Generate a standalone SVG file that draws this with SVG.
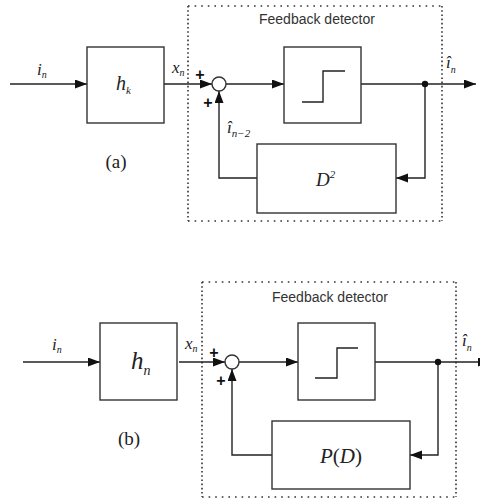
<svg xmlns="http://www.w3.org/2000/svg" width="480" height="498" viewBox="0 0 480 498">
<defs>
<marker id="arr" markerUnits="userSpaceOnUse" markerWidth="13" markerHeight="10" refX="12" refY="4.5" orient="auto">
<path d="M0,0 L12,4.5 L0,9 Z" fill="#111"/>
</marker>
<style>
.box{fill:#fff;stroke:#333;stroke-width:1.4}
.ln{fill:none;stroke:#222;stroke-width:1.4}
.dot{fill:#111}
.fh{fill:none;stroke:#333;stroke-width:1.6;stroke-dasharray:1.6 5}
.fv{fill:none;stroke:#333;stroke-width:1.6;stroke-dasharray:1.6 2.6}
.m{font-family:"Liberation Serif",serif;font-style:italic;fill:#222}
.r{font-family:"Liberation Serif",serif;fill:#222}
.s{font-family:"Liberation Sans",sans-serif;fill:#333}
.p{font-family:"Liberation Sans",sans-serif;font-weight:bold;font-size:16px;fill:#111;text-anchor:middle}
</style>
</defs>
<rect width="480" height="498" fill="#fff"/>

<!-- Panel (a) -->
<g id="frame-a">
<line class="fh" x1="188" y1="6" x2="442" y2="6"/>
<line class="fh" x1="188" y1="221" x2="442" y2="221"/>
<line class="fv" x1="188" y1="6" x2="188" y2="221"/>
<line class="fv" x1="442" y1="6" x2="442" y2="221"/>
<text class="s" x="259" y="24" font-size="14">Feedback detector</text>
</g>
<g id="connectors-a">
<line class="ln" x1="10" y1="84" x2="87" y2="84" marker-end="url(#arr)"/>
<line class="ln" x1="164" y1="84" x2="212" y2="84" marker-end="url(#arr)"/>
<line class="ln" x1="226" y1="84" x2="284" y2="84" marker-end="url(#arr)"/>
<line class="ln" x1="361" y1="84" x2="476" y2="84" marker-end="url(#arr)"/>
<polyline class="ln" points="425,84 425,178 396,178" marker-end="url(#arr)"/>
<polyline class="ln" points="257,178 219,178 219,91" marker-end="url(#arr)"/>
<circle class="dot" cx="425" cy="84" r="3.2"/>
</g>
<g id="hk">
<rect class="box" x="87" y="47" width="77" height="76"/>
<text class="m" x="116" y="90" font-size="20">h<tspan font-size="11" dy="4">k</tspan></text>
</g>
<g id="sum-a">
<circle class="box" cx="219" cy="84" r="7"/>
<text class="p" x="200" y="80">+</text>
<text class="p" x="208" y="108">+</text>
</g>
<g id="step-a">
<rect class="box" x="284" y="47" width="77" height="76"/>
<polyline class="ln" points="302,102 323,102 323,71 345,71"/>
</g>
<g id="d2">
<rect class="box" x="257" y="144" width="139" height="69"/>
<text class="m" x="316" y="186" font-size="19">D<tspan font-size="11" dy="-8">2</tspan></text>
</g>
<g id="labels-a">
<text class="m" x="37" y="75" font-size="17">i<tspan font-size="10" dy="3">n</tspan></text>
<text class="m" x="172" y="73" font-size="17">x<tspan font-size="10" dy="3">n</tspan></text>
<text class="m" x="227" y="133" font-size="17">î<tspan font-size="11" dy="4">n−2</tspan></text>
<text class="m" x="446" y="68" font-size="17">î<tspan font-size="10" dy="5">n</tspan></text>
<text class="r" x="116" y="168" font-size="19" text-anchor="middle">(a)</text>
</g>

<!-- Panel (b) -->
<g id="frame-b">
<line class="fh" x1="202" y1="282" x2="456" y2="282"/>
<line class="fh" x1="202" y1="497" x2="456" y2="497"/>
<line class="fv" x1="202" y1="282" x2="202" y2="497"/>
<line class="fv" x1="456" y1="282" x2="456" y2="497"/>
<text class="s" x="272" y="302" font-size="14">Feedback detector</text>
</g>
<g id="connectors-b">
<line class="ln" x1="23" y1="362" x2="100" y2="362" marker-end="url(#arr)"/>
<line class="ln" x1="179" y1="362" x2="225" y2="362" marker-end="url(#arr)"/>
<line class="ln" x1="239" y1="362" x2="298" y2="362" marker-end="url(#arr)"/>
<line class="ln" x1="375" y1="362" x2="490" y2="362" marker-end="url(#arr)"/>
<polyline class="ln" points="438,362 438,455 410,455" marker-end="url(#arr)"/>
<polyline class="ln" points="272,455 232,455 232,369" marker-end="url(#arr)"/>
<circle class="dot" cx="438" cy="362" r="3.2"/>
</g>
<g id="hn">
<rect class="box" x="100" y="323" width="77" height="77"/>
<text class="m" x="131" y="369" font-size="25">h<tspan font-size="14" dy="6">n</tspan></text>
</g>
<g id="sum-b">
<circle class="box" cx="232" cy="362" r="7"/>
<text class="p" x="214" y="358">+</text>
<text class="p" x="221" y="386">+</text>
</g>
<g id="step-b">
<rect class="box" x="298" y="323" width="77" height="77"/>
<polyline class="ln" points="315,378 337,378 337,348 358,348"/>
</g>
<g id="pd">
<rect class="box" x="272" y="421" width="138" height="68"/>
<text class="m" x="341" y="463" font-size="21" text-anchor="middle">P<tspan font-style="normal">(</tspan>D<tspan font-style="normal">)</tspan></text>
</g>
<g id="labels-b">
<text class="m" x="52" y="350" font-size="17">i<tspan font-size="10" dy="3">n</tspan></text>
<text class="m" x="185" y="349" font-size="17">x<tspan font-size="10" dy="3">n</tspan></text>
<text class="m" x="462" y="346" font-size="17">î<tspan font-size="10" dy="5">n</tspan></text>
<text class="r" x="129" y="445" font-size="19" text-anchor="middle">(b)</text>
</g>
</svg>
